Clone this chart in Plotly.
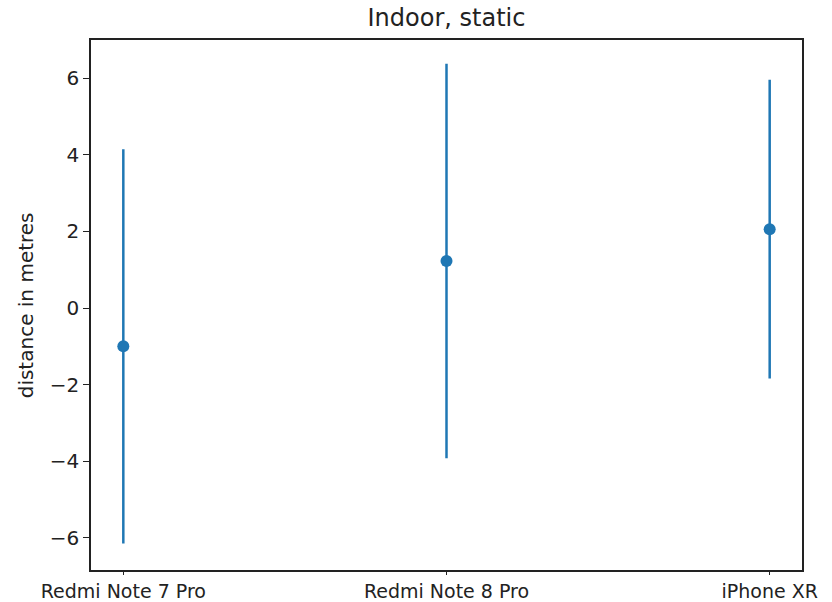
import plotly.graph_objects as go

devices = ["Redmi Note 7 Pro", "Redmi Note 8 Pro", "iPhone XR"]
mean_dist = [-1.0, 1.23, 2.06]
std_dist = [5.15, 5.15, 3.9]
y_ticks = [-6, -4, -2, 0, 2, 4, 6]

xpos = list(range(len(devices)))
color = "#1f77b4"
FONT = "DejaVu Sans"

fig = go.Figure()
fig.add_trace(go.Scatter(
    x=xpos, y=mean_dist, mode="markers",
    marker=dict(color=color, size=12),
    error_y=dict(type="data", array=std_dist, symmetric=True,
                 color=color, thickness=2.5, width=0),
    showlegend=False,
))

axis_common = dict(
    showgrid=False, zeroline=False, showline=True, mirror=True,
    linecolor="#222222", linewidth=1.5, ticks="outside", tickwidth=1.3,
    tickcolor="#222222", automargin=False,
)
fig.update_xaxes(range=[-0.1, 2.1], tickvals=xpos, ticktext=devices, ticklen=3,
                 tickfont=dict(family=FONT, size=19, color="#222222"), **axis_common)
fig.update_yaxes(range=[-6.84, 7.0], tickvals=y_ticks, ticklen=6,
                 ticktext=[("\u2212" + str(-v)) if v < 0 else str(v) for v in y_ticks],
                 tickfont=dict(family=FONT, size=20, color="#222222"), **axis_common)

fig.add_annotation(text="distance in metres", textangle=-90,
                   xref="paper", yref="paper", x=-0.091, y=0.50,
                   xanchor="center", yanchor="middle", showarrow=False,
                   font=dict(family=FONT, size=20, color="#222222"))

fig.update_layout(
    width=832, height=602,
    margin=dict(l=91, r=30, t=40, b=32),
    paper_bgcolor="white", plot_bgcolor="white",
    title=dict(text="Indoor, static", x=(91 + 802) / 2 / 832, xanchor="center",
               y=1 - 18 / 602, yanchor="middle",
               font=dict(family=FONT, size=24, color="#222222")),
)
fig.write_html("out.html", config={"displayModeBar": False},
               post_script="document.body.style.margin='0';document.body.style.overflow='hidden';")
